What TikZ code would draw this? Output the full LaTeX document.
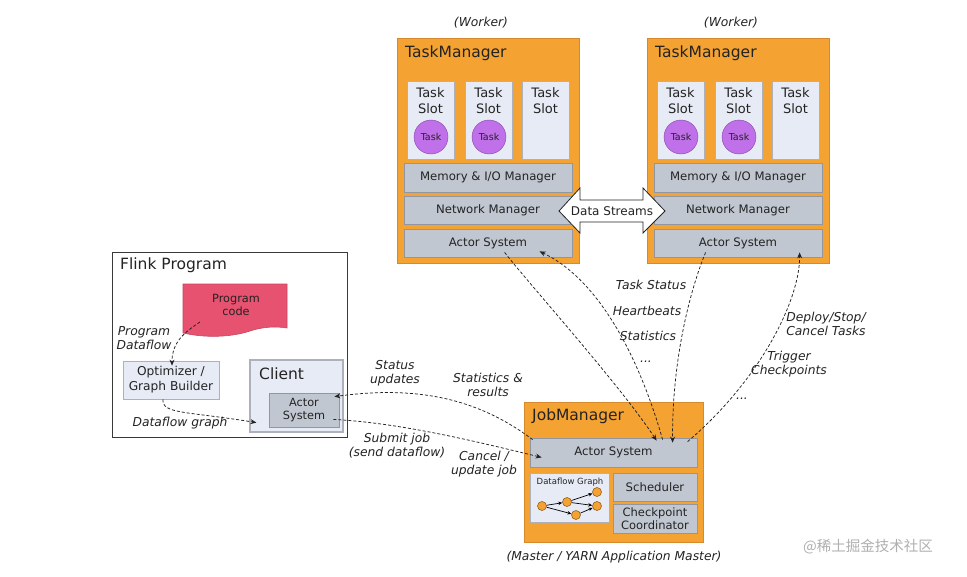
\documentclass[tikz,border=0pt]{standalone}
\usepackage{fontspec}
\setmainfont{DejaVu Sans}
\newfontfamily\cjkfont{Noto Sans CJK SC}
\usetikzlibrary{fit,arrows.meta,calc}
\definecolor{orgfill}{RGB}{244,162,50}
\definecolor{orgdraw}{RGB}{214,138,45}
\definecolor{gfill}{RGB}{193,199,209}
\definecolor{gdraw}{RGB}{145,150,160}
\definecolor{sfill}{RGB}{231,235,245}
\definecolor{sdraw}{RGB}{172,177,187}
\definecolor{pfill}{RGB}{192,112,232}
\definecolor{pdraw}{RGB}{130,70,170}
\definecolor{rfill}{RGB}{230,82,112}
\definecolor{rdraw}{RGB}{200,70,95}
\definecolor{txt}{RGB}{35,35,35}
\definecolor{wm}{RGB}{175,175,175}
\begin{document}
\begin{tikzpicture}[x=1pt,y=-1pt,
  obox/.style={draw=orgdraw, fill=orgfill, line width=0.8pt, inner sep=0pt},
  gbox/.style={draw=gdraw, fill=gfill, line width=0.8pt, inner sep=0pt},
  sbox/.style={draw=sdraw, fill=sfill, line width=0.8pt, inner sep=0pt},
  cbox/.style={draw=sdraw, fill=sfill, line width=1pt, inner sep=0pt},
  ttl/.style={anchor=west, inner sep=0pt, font=\fontsize{15.5}{18}\selectfont, text=txt},
  slottxt/.style={inner sep=0pt, align=center, font=\fontsize{13}{16}\selectfont, text=txt},
  btxt/.style={inner sep=0pt, align=center, font=\fontsize{11.7}{14}\selectfont, text=txt},
  lbl/.style={inner sep=0pt, align=center, font=\fontsize{12.3}{14}\selectfont\itshape, text=txt},
  conn/.style={draw=txt, line width=0.75pt, dash pattern=on 3pt off 2pt, -{Stealth[length=6pt,width=5pt]}},
  tasknode/.style={circle, draw=pdraw, fill=pfill, minimum size=34pt, inner sep=0pt, font=\fontsize{9.5}{10}\selectfont, text=txt},
  dnode/.style={circle, draw=orgdraw!70!black, fill=orgfill, line width=0.6pt, minimum size=9pt, inner sep=0pt},
  dedge/.style={draw=black, line width=0.7pt, -{Stealth[length=4pt,width=3.5pt]}}
]
\useasboundingbox (0,0) rectangle (967,576);

% ---------------- TaskManagers ----------------
\foreach \i/\dx in {1/0,2/250}{
  \node[lbl] (w\i) at (481+\dx,23) {(Worker)};
  \node[obox, fit={(397+\dx,38)(579+\dx,263)}] (tm\i) {};
  \node[ttl] (tm\i t) at (405+\dx,53) {TaskManager};
  \foreach \j/\sx in {1/407,2/465,3/522}{
    \node[sbox, fit={(\sx+\dx,81)(\sx+47+\dx,159)}] (tm\i s\j) {};
    \node[slottxt] (tm\i s\j t) at (\sx+23.5+\dx,101) {Task\\Slot};
  }
  \node[tasknode] (tm\i k1) at (431+\dx,137) {Task};
  \node[tasknode] (tm\i k2) at (489+\dx,137) {Task};
  \node[gbox, fit={(404+\dx,163)(572+\dx,192)}] (tm\i mem) {};
  \node[gbox, fit={(404+\dx,196)(572+\dx,224)}] (tm\i net) {};
  \node[gbox, fit={(404+\dx,229)(572+\dx,257)}] (tm\i act) {};
  \node[btxt] (tm\i memt) at (tm\i mem) {Memory \& I/O Manager};
  \node[btxt] (tm\i nett) at (tm\i net) {Network Manager};
  \node[btxt] (tm\i actt) at (tm\i act) {Actor System};
}

% Data streams double arrow
\draw[draw=txt, fill=white, line width=0.8pt]
  (559,211) -- (580,188) -- (580,200) -- (643,200) -- (643,188) -- (665,211)
  -- (643,233) -- (643,222) -- (580,222) -- (580,233) -- cycle;
\node[btxt, font=\fontsize{12}{14}\selectfont] (ds) at (612,211) {Data Streams};

% ---------------- Flink Program ----------------
\node[draw=txt!90, fill=white, line width=1pt, inner sep=0pt, fit={(112,252)(347,437)}] (fp) {};
\node[ttl] (fpt) at (120,265) {Flink Program};
\draw[draw=rdraw, fill=rfill, line width=0.6pt]
  (183,284) -- (287,284) -- (287,328)
  .. controls (275,326) and (262,327) .. (250,331)
  .. controls (235,336) and (210,339) .. (183,333) -- cycle;
\node[btxt, font=\fontsize{11.3}{13}\selectfont] (pc) at (236,305) {Program\\code};
\node[cbox, fit={(123,361)(219,399)}, line width=0.8pt] (opt) {};
\node[btxt, font=\fontsize{12.2}{15}\selectfont] (optt) at (opt) {Optimizer /\\Graph Builder};
\node[cbox, fit={(250,360)(343,432)}, line width=1.2pt] (cl) {};
\node[ttl] (clt) at (259,374) {Client};
\node[gbox, fit={(269,393)(339,427)}] (clact) {};
\node[btxt, font=\fontsize{11.3}{13}\selectfont] (clactt) at (clact) {Actor\\System};
\node[lbl] (lpd) at (144,338) {Program\\Dataflow};
\node[lbl] (ldg) at (180,423) {Dataflow graph};

\draw[conn] ([shift={(-36,17)}]pc.center) .. controls (180,335) and (172,345) .. ([shift={(1,5)}]opt.north);
\draw[conn] ([shift={(-8,0)}]opt.south) .. controls (162,414) and (185,411) .. ([shift={(7,-10)}]cl.south west);

% ---------------- JobManager ----------------
\node[obox, fit={(524,402)(703,542)}] (jm) {};
\node[ttl] (jmt) at (532,416) {JobManager};
\node[gbox, fit={(530,438)(697,467)}] (jmact) {};
\node[btxt] (jmactt) at (jmact) {Actor System};
\node[sbox, fit={(530,473)(609,522)}] (dfg) {};
\node[btxt, font=\fontsize{8.5}{9}\selectfont] (dfgt) at (570,482) {Dataflow Graph};
\node[gbox, fit={(613,473)(697,501)}] (sch) {};
\node[btxt] (scht) at (sch) {Scheduler};
\node[gbox, fit={(613,504)(697,533)}] (cc) {};
\node[btxt, font=\fontsize{11.5}{13}\selectfont] (cct) at (cc) {Checkpoint\\Coordinator};
\node[lbl] (mst) at (614,557) {(Master / YARN Application Master)};

% dataflow graph mini
\node[dnode] (d1) at (542,506) {};
\node[dnode] (d2) at (567,502) {};
\node[dnode] (d3) at (576,515) {};
\node[dnode] (d4) at (597,492) {};
\node[dnode] (d5) at (597,506) {};
\draw[dedge] (d1) -- (d2);
\draw[dedge] (d1) -- (d3);
\draw[dedge] (d2) -- (d4);
\draw[dedge] (d2) -- (d5);
\draw[dedge] (d3) -- (d5);

% ---------------- Client <-> JobManager ----------------
\draw[conn] ([shift={(3,2)}]jmact.north west) .. controls (480,400) and (420,385) .. ([shift={(-5,4)}]clact.north east);
\draw[conn] ([shift={(-6,-8)}]clact.south east) .. controls (400,423) and (470,440) .. ([shift={(12,-10)}]jmact.south west);
\node[lbl] (lsu) at (395,373) {Status\\updates};
\node[lbl] (lsr) at (488,385) {Statistics \&\\results};
\node[lbl] (lsj) at (397,446) {Submit job\\(send dataflow)};
\node[lbl] (lcu) at (484,464) {Cancel /\\update job};

% ---------------- TaskManagers <-> JobManager ----------------
\draw[conn] ([shift={(101,-5)}]tm1act.south west) .. controls (530,285) and (620,385) .. ([shift={(127,3)}]jmact.north west);
\draw[conn] ([shift={(133,2)}]jmact.north west) .. controls (640,360) and (600,280) .. ([shift={(136,-6)}]tm1act.south west);
\draw[conn] ([shift={(52,-5)}]tm2act.south west) .. controls (690,290) and (672,360) .. ([shift={(143,5)}]jmact.north west);
\draw[conn] ([shift={(158,4)}]jmact.north west) .. controls (760,380) and (800,300) .. ([shift={(146,-5)}]tm2act.south west);
\node[lbl] (lts) at (651,285) {Task Status};
\node[lbl] (lhb) at (647,311) {Heartbeats};
\node[lbl] (lst) at (648,336) {Statistics};
\node[lbl] (ld1) at (646,362) {...};
\node[lbl] (ldp) at (826,324) {Deploy/Stop/\\Cancel Tasks};
\node[lbl] (ltc) at (789,364) {Trigger\\Checkpoints};
\node[lbl] (ld2) at (742,399) {...};

% watermark
\node[inner sep=0pt, text=wm, font=\cjkfont\fontsize{14.5}{16}\selectfont] (wmk) at (868,547) {@稀土掘金技术社区};
\end{tikzpicture}
\end{document}
